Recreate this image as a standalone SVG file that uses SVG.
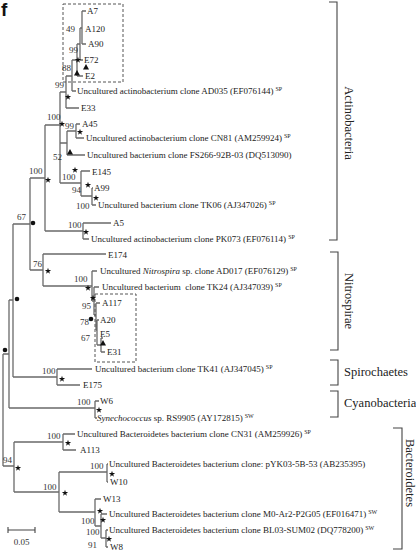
<svg xmlns="http://www.w3.org/2000/svg" xmlns:xlink="http://www.w3.org/1999/xlink" width="416" height="551" viewBox="0 0 416 551">
<defs>
<style>
.br{fill:none;stroke:#6a6a6a;stroke-width:1.3}
.bk{fill:none;stroke:#444;stroke-width:1.1}
.box{fill:none;stroke:#555;stroke-width:1;stroke-dasharray:3,2}
.lf{font-family:"Liberation Serif","Times New Roman",serif;font-size:9px;fill:#222}
.bs{font-family:"Liberation Serif","Times New Roman",serif;font-size:9px;fill:#333}
.sup{font-size:6px}
.grp{font-family:"Liberation Serif","Times New Roman",serif;font-size:12.5px;fill:#222}
.sym{fill:#111}
</style>
<path id="st" d="M0,-3.3 L0.76,-1.05 L3.14,-1.02 L1.24,0.4 L1.94,2.67 L0,1.3 L-1.94,2.67 L-1.24,0.4 L-3.14,-1.02 L-0.76,-1.05 Z"/>
<path id="tr" d="M0,-3 L3,2.5 L-3,2.5 Z"/>
<circle id="ci" cx="0" cy="0" r="2.3"/>
</defs>
<rect width="416" height="551" fill="#fff"/>
<text x="1" y="16" font-family="Liberation Sans, Arial, sans-serif" font-weight="bold" font-size="19" fill="#111">f</text>

<g id="connectors" class="br">
<path d="M82,11 V44 M82,11 H86 M82,44 H86 M80,28 V60 M80,28 H82 M80,60 H83 M77,44 V76 M77,44 H80 M77,76 H83 M72,60 V91 M72,60 H77 M72,91 H76 M66,76 V108 M66,76 H72 M66,108 H79"/>
<path d="M60,92 V183 M60,92 H66 M60,143 H67 M60,183 H81 M67,131 V155 M67,131 H76 M67,155 H85 M76,124 V138 M76,124 H80 M76,138 H84 M81,171 V196 M81,171 H90 M81,196 H92 M92,188 V205 M92,188 H93 M92,205 H96"/>
<path d="M45,125 V231 M45,125 H60 M45,231 H83 M83,223 V239 M83,223 H111 M83,239 H89 M30,178 V270 M30,178 H45 M30,270 H43"/>
<path d="M43,254 V286 M43,254 H106 M43,286 H92 M92,271 V301 M92,271 H97 M92,301 H94 M94,287 V315 M94,287 H99 M94,315 H96 M96,303 V330 M96,303 H100 M96,330 H97 M97,320 V345 M97,320 H99 M97,345 H101 M101,338 V352 M101,338 H103 M101,352 H105"/>
<path d="M13,224 V377 M13,224 H30 M13,377 H57 M57,369 V385 M57,369 H92 M57,385 H80 M9,300 V408 M9,300 H13 M9,408 H95 M95,401 V418 M95,401 H99 M95,418 H97 M3,354 V466 M3,354 H9 M3,466 H14"/>
<path d="M14,442 V492 M14,442 H63 M14,492 H59 M63,434 V450 M63,434 H75 M63,450 H76 M59,472 V512 M59,472 H107 M59,512 H95 M107,464 V482 M107,464 H108 M107,482 H108 M95,499 V526 M95,499 H101 M95,526 H101 M101,514 V538 M101,514 H107 M101,538 H106 M106,530 V547 M106,530 H108 M106,547 H108"/>
</g>

<g id="boxes">
<rect class="box" x="63" y="4" width="60" height="78"/>
<rect class="box" x="95" y="294" width="41" height="68"/>
</g>

<g id="leaves" class="lf">
<g id="n-A7"><text x="87" y="14">A7</text></g>
<g id="n-A120"><text x="85" y="32">A120</text></g>
<g id="n-A90"><text x="88" y="47">A90</text></g>
<g id="n-E72"><text x="84" y="63">E72</text></g>
<g id="n-E2"><text x="85" y="79">E2</text></g>
<g id="n-AD035"><text x="77" y="94">Uncultured actinobacterium clone AD035 (EF076144)<tspan class="sup" dx="2" dy="-3">SP</tspan></text></g>
<g id="n-E33"><text x="81" y="111">E33</text></g>
<g id="n-A45"><text x="82" y="127">A45</text></g>
<g id="n-CN81"><text x="86" y="141">Uncultured actinobacterium clone CN81 (AM259924)<tspan class="sup" dx="2" dy="-3">SP</tspan></text></g>
<g id="n-FS266"><text x="87" y="158">Uncultured bacterium clone FS266-92B-03 (DQ513090)</text></g>
<g id="n-E145"><text x="92" y="175">E145</text></g>
<g id="n-A99"><text x="94" y="191">A99</text></g>
<g id="n-TK06"><text x="98" y="208">Uncultured bacterium clone TK06 (AJ347026)<tspan class="sup" dx="2" dy="-3">SP</tspan></text></g>
<g id="n-A5"><text x="113" y="226">A5</text></g>
<g id="n-PK073"><text x="91" y="242">Uncultured actinobacterium clone PK073 (EF076114)<tspan class="sup" dx="2" dy="-3">SP</tspan></text></g>
<g id="n-E174"><text x="108" y="258">E174</text></g>
<g id="n-AD017"><text x="100" y="274">Uncultured <tspan font-style="italic">Nitrospira</tspan> sp. clone AD017 (EF076129)<tspan class="sup" dx="2" dy="-3">SP</tspan></text></g>
<g id="n-TK24"><text x="102" y="290" xml:space="preserve">Uncultured bacterium  clone TK24 (AJ347039)<tspan class="sup" dx="2" dy="-3">SP</tspan></text></g>
<g id="n-A117"><text x="102" y="306">A117</text></g>
<g id="n-A20"><text x="100" y="323">A20</text></g>
<g id="n-E5"><text x="100" y="337">E5</text></g>
<g id="n-E31"><text x="107" y="355">E31</text></g>
<g id="n-TK41"><text x="95" y="372">Uncultured bacterium clone TK41 (AJ347045)<tspan class="sup" dx="2" dy="-3">SP</tspan></text></g>
<g id="n-E175"><text x="83" y="388">E175</text></g>
<g id="n-W6"><text x="100" y="404">W6</text></g>
<g id="n-RS9905"><text x="97" y="421"><tspan font-style="italic">Synechococcus</tspan> sp. RS9905 (AY172815)<tspan class="sup" dx="2" dy="-3">SW</tspan></text></g>
<g id="n-CN31"><text x="77" y="437">Uncultured Bacteroidetes bacterium clone CN31 (AM259926)<tspan class="sup" dx="2" dy="-3">SP</tspan></text></g>
<g id="n-A113"><text x="80" y="453">A113</text></g>
<g id="n-pYK03"><text x="109" y="467">Uncultured Bacteroidetes bacterium clone: pYK03-5B-53 (AB235395)</text></g>
<g id="n-W10"><text x="110" y="485">W10</text></g>
<g id="n-W13"><text x="103" y="502">W13</text></g>
<g id="n-M0"><text x="109" y="517">Uncultured Bacteroidetes bacterium clone M0-Ar2-P2G05 (EF016471)<tspan class="sup" dx="2" dy="-3">SW</tspan></text></g>
<g id="n-BL03"><text x="109" y="533">Uncultured Bacteroidetes bacterium clone BL03-SUM02 (DQ778200)<tspan class="sup" dx="2" dy="-3">SW</tspan></text></g>
<g id="n-W8"><text x="110" y="550">W8</text></g>
</g>

<g id="support" class="bs">
<text x="66" y="32">49</text>
<text x="69" y="53">99</text>
<text x="62" y="71">88</text>
<text x="55" y="88">99</text>
<text x="47" y="120">100</text>
<text x="65" y="129">99</text>
<text x="53" y="160">52</text>
<text x="62" y="180">100</text>
<text x="72" y="193">94</text>
<text x="76" y="209">100</text>
<text x="29" y="174">100</text>
<text x="68" y="228">100</text>
<text x="17" y="220">67</text>
<text x="33" y="267">76</text>
<text x="74" y="282">100</text>
<text x="82" y="309">95</text>
<text x="80" y="325">78</text>
<text x="81" y="341">67</text>
<text x="42" y="374">100</text>
<text x="77" y="405">100</text>
<text x="3" y="463">94</text>
<text x="47" y="439">100</text>
<text x="43" y="490">100</text>
<text x="90" y="469">100</text>
<text x="81" y="524">100</text>
<text x="86" y="535">100</text>
<text x="88" y="548">91</text>
</g>

<g id="symbols" class="sym">
<use xlink:href="#st" x="78" y="60"/>
<use xlink:href="#tr" x="86" y="67"/>
<use xlink:href="#tr" x="77" y="73"/>
<use xlink:href="#st" x="68" y="97"/>
<use xlink:href="#st" x="62" y="124"/>
<use xlink:href="#st" x="80" y="132"/>
<use xlink:href="#tr" x="70" y="152"/>
<use xlink:href="#st" x="75" y="170"/>
<use xlink:href="#st" x="88" y="185"/>
<use xlink:href="#st" x="96" y="198"/>
<use xlink:href="#st" x="48" y="180"/>
<use xlink:href="#st" x="86" y="232"/>
<use xlink:href="#ci" x="33" y="223"/>
<use xlink:href="#st" x="48" y="271"/>
<use xlink:href="#st" x="88" y="288"/>
<use xlink:href="#st" x="93" y="298"/>
<use xlink:href="#ci" x="91" y="319"/>
<use xlink:href="#tr" x="103" y="343"/>
<use xlink:href="#ci" x="17" y="299"/>
<use xlink:href="#st" x="62" y="379"/>
<use xlink:href="#ci" x="5" y="350"/>
<use xlink:href="#st" x="99" y="410"/>
<use xlink:href="#st" x="18" y="468"/>
<use xlink:href="#st" x="68" y="443"/>
<use xlink:href="#st" x="65" y="493"/>
<use xlink:href="#st" x="112" y="474"/>
<use xlink:href="#st" x="100" y="511"/>
<use xlink:href="#st" x="103" y="520"/>
<use xlink:href="#st" x="109" y="539"/>
</g>

<g id="groups">
<g id="g-actino"><path class="bk" d="M329,2 H337 V240 H329"/><text class="grp" transform="translate(345,123) rotate(90)" text-anchor="middle">Actinobacteria</text></g>
<g id="g-nitro"><path class="bk" d="M330,252 H338 V350 H330"/><text class="grp" transform="translate(345,301) rotate(90)" text-anchor="middle">Nitrospirae</text></g>
<g id="g-spiro"><path class="bk" d="M330,360 H338 V385 H330"/><text class="grp" x="344" y="376">Spirochaetes</text></g>
<g id="g-cyano"><path class="bk" d="M330,391 H338 V417 H330"/><text class="grp" x="344" y="407">Cyanobacteria</text></g>
<g id="g-bact"><path class="bk" d="M393,428 H402 V549 H393"/><text class="grp" transform="translate(406,473) rotate(90)" text-anchor="middle">Bacteroidetes</text></g>
</g>

<g id="scale">
<path class="bk" d="M8,530 H35 M8,527 V533 M35,527 V533"/>
<text class="bs" x="21.5" y="545" text-anchor="middle">0.05</text>
</g>
</svg>
